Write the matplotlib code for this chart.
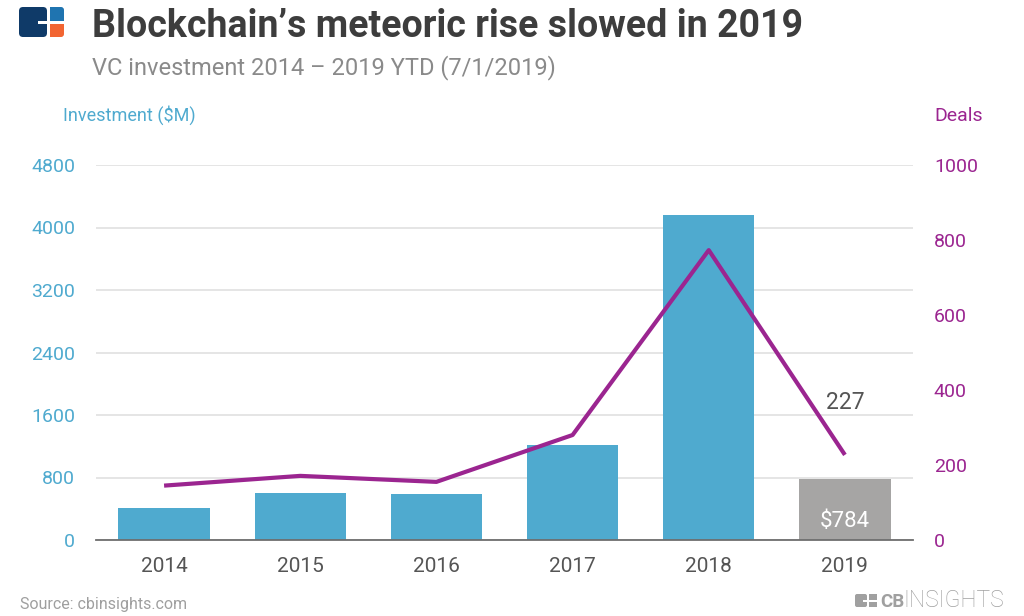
import matplotlib
matplotlib.use("Agg")
import matplotlib.pyplot as plt
from matplotlib.patches import FancyBboxPatch, Rectangle
import numpy as np

years = ['2014', '2015', '2016', '2017', '2018', '2019']
investment = [413, 605, 589, 1216, 4156, 784]
deals = [145, 171, 155, 280, 773, 227]
left_ticks = [0, 800, 1600, 2400, 3200, 4000, 4800]
right_ticks = [0, 200, 400, 600, 800, 1000]

BLUE = '#4FAACF'
PURPLE = '#9B2590'
GRAY_BAR = '#A6A5A4'

plt.rcParams['font.family'] = ['Roboto', 'DejaVu Sans']

W, H = 1024, 616
fig = plt.figure(figsize=(W / 100, H / 100), dpi=100)


def px(x, y):
    return x / W, 1 - y / H


ax = fig.add_axes([96 / W, 1 - 540 / H, (913 - 96) / W, 375 / H])
x = np.arange(len(years))
colors = [BLUE] * (len(years) - 1) + [GRAY_BAR]
ax.bar(x, investment, width=0.67, color=colors, zorder=2)
ax.set_xlim(-0.5, len(years) - 0.5)
ax.set_ylim(0, 4800)
ax.set_yticks(left_ticks)
ax.set_xticks(x, years)
ax.yaxis.grid(True, color='#E3E3E3', lw=1.3)
ax.set_axisbelow(True)
for s in ['top', 'right', 'left']:
    ax.spines[s].set_visible(False)
ax.spines['bottom'].set_color('#6E6E6E')
ax.spines['bottom'].set_linewidth(1.3)
ax.spines['bottom'].set_zorder(3)
ax.tick_params(axis='y', length=0, pad=15, labelcolor=BLUE, labelsize=14)
ax.tick_params(axis='x', length=0, pad=12, labelcolor='#555555', labelsize=15)

ax.annotate(f'${investment[-1]}', (x[-1], 0), xytext=(0, 9.5),
            textcoords='offset points', ha='center', va='baseline',
            color='white', fontsize=16, zorder=4)

ax2 = ax.twinx()
ax2.plot(x, deals, color=PURPLE, lw=3, solid_capstyle='butt', zorder=3)
ax2.set_ylim(0, 1000)
ax2.set_yticks(right_ticks)
for s in ['top', 'right', 'left', 'bottom']:
    ax2.spines[s].set_visible(False)
ax2.tick_params(axis='y', length=0, pad=15, labelcolor=PURPLE, labelsize=14)
ax2.annotate(str(deals[-1]), (x[-1], deals[-1]), xytext=(0, 33),
             textcoords='offset points', ha='center', va='baseline',
             color='#555555', fontsize=16.5)

# Titles
fig.text(*px(92, 37), 'Blockchain\u2019s meteoric rise slowed in 2019',
         fontsize=27, fontweight='bold', color='#3D3D3D', va='baseline')
fig.text(*px(92, 74), 'VC investment 2014 \u2013 2019 YTD (7/1/2019)',
         fontsize=17, color='#8A8A8A', va='baseline')
fig.text(*px(63, 121), 'Investment ($M)', fontsize=13, color=BLUE, va='baseline')
fig.text(*px(934, 121), 'Deals', fontsize=14, color=PURPLE, va='baseline')
fig.text(*px(20, 609), 'Source: cbinsights.com', fontsize=11.5, color='#9F9F9F', va='baseline')

# Logos
lax = fig.add_axes([0, 0, 1, 1], zorder=-1)
lax.set_xlim(0, W)
lax.set_ylim(H, 0)
lax.axis('off')
lax.add_patch(FancyBboxPatch((19, 7), 28, 30, boxstyle='round,pad=0,rounding_size=4',
                             color='#0F3A68', lw=0))
lax.add_patch(FancyBboxPatch((50, 7), 14, 14, boxstyle='round,pad=0,rounding_size=3',
                             color='#1F74B0', lw=0))
lax.add_patch(Rectangle((50, 7), 8, 14, color='#1F74B0', lw=0))
lax.add_patch(Rectangle((50, 15), 14, 6, color='#1F74B0', lw=0))
lax.add_patch(FancyBboxPatch((50, 24), 14, 13, boxstyle='round,pad=0,rounding_size=3',
                             color='#F26532', lw=0))
lax.add_patch(Rectangle((50, 24), 14, 6, color='#F26532', lw=0))
lax.add_patch(Rectangle((50, 24), 8, 13, color='#F26532', lw=0))
lax.add_patch(Rectangle((38, 21), 12, 3, color='white', lw=0))

# CB Insights footer logo
g = '#A0A0A0'
lax.add_patch(FancyBboxPatch((855, 594), 12, 13, boxstyle='round,pad=0,rounding_size=2',
                             color=g, lw=0))
lax.add_patch(Rectangle((869, 594), 8, 6, color=g, lw=0))
lax.add_patch(Rectangle((869, 602), 8, 5, color=g, lw=0))
lax.add_patch(Rectangle((863, 599.5), 6, 2, color='white', lw=0))
fig.text(*px(880, 607), 'CB', fontsize=13.5, fontweight='bold', color=g, va='baseline')
fig.text(*px(903, 607), 'INSIGHTS', fontsize=16.5, fontweight='light', color=g, va='baseline')

fig.savefig('out.png', dpi=100)
